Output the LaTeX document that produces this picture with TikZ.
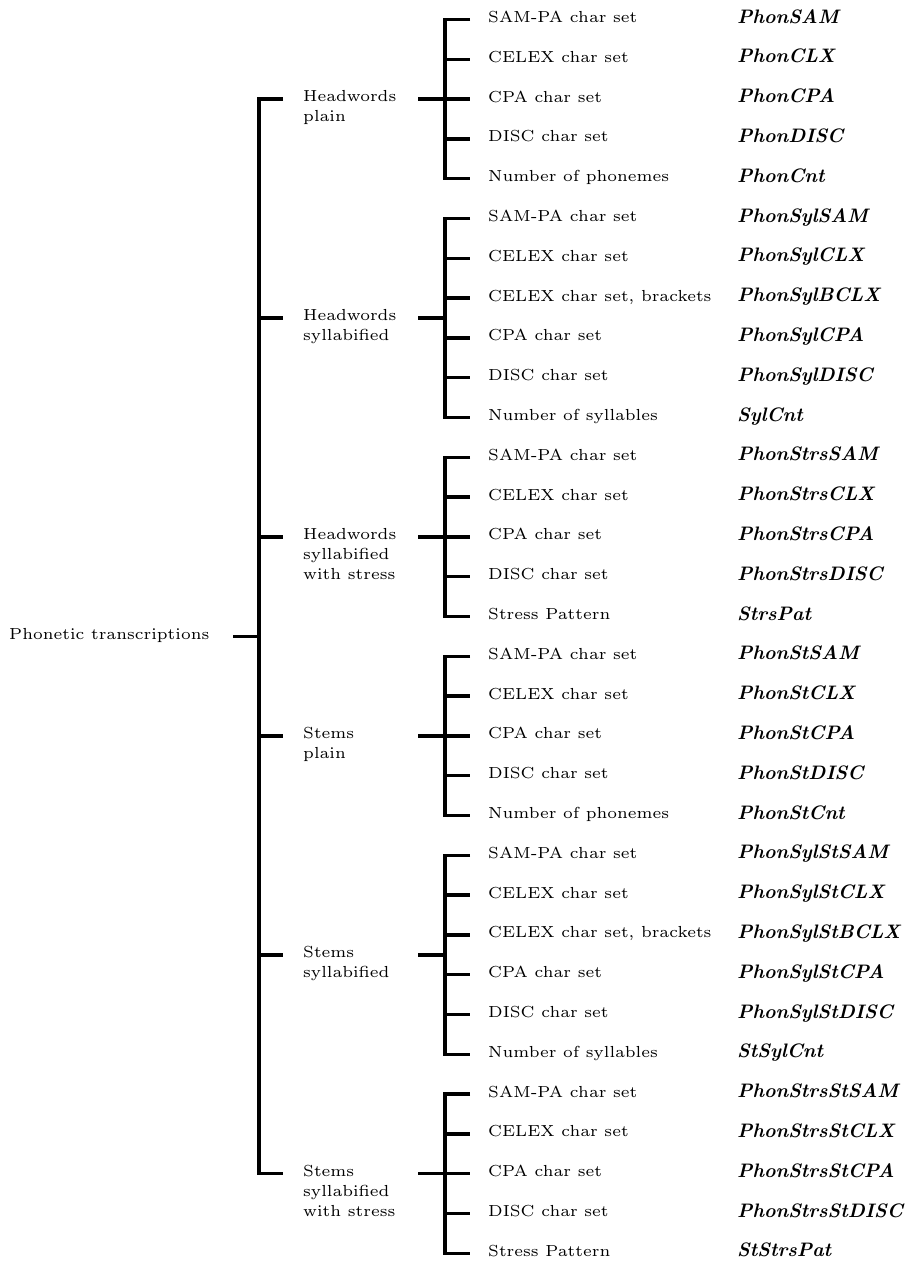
\documentclass[tikz,border=0pt]{standalone}
\usetikzlibrary{calc}
\font\myrm=cmr6 at 16pt
\font\mybi=cmbxti10 at 19.5pt
\newcommand\rmtxt{\fontsize{16}{20}\selectfont\myrm}
\tikzset{
  tree/.style={line width=3.5pt, line join=miter, line cap=butt},
  leaf/.style={anchor=base west, inner sep=0pt, font=\myrm},
  codetxt/.style={anchor=base west, inner sep=0pt, font=\mybi},
  grp/.style={anchor=base west, inner sep=0pt, font=\rmtxt}
}
\newcommand\leafrow[4]{%
  \pgfmathsetmacro\yy{19.5+39.8*#2}%
  \coordinate (b#1) at (445,\yy);
  \coordinate (e#1) at (470,\yy);
  \node[leaf] (t#1) at (488,\yy+3) {#3};
  \node[codetxt] (k#1) at (737,\yy+3.5) {#4};
}
\newcommand\grouprow[3]{%
  \pgfmathsetmacro\yy{19.5+39.8*#2}%
  \coordinate (gb#1) at (259,\yy);
  \coordinate (gs#1) at (283,\yy);
  \coordinate (gr#1) at (418,\yy);
  \coordinate (gm#1) at (445,\yy);
  \node[grp] (g#1) at (303,\yy+2.5) {\begin{tabular}[t]{@{}l@{}}#3\end{tabular}};
}
\begin{document}
\begin{tikzpicture}[x=1pt,y=-1pt]
\useasboundingbox (0,0) rectangle (908,1262);
% root
\node[grp] (root) at (9,639) {Phonetic transcriptions};
\coordinate (rs) at (233,636.5);
\coordinate (rb) at (259,636.5);
% groups
\grouprow{1}{2}{Headwords\\plain}
\grouprow{2}{7.5}{Headwords\\syllabified}
\grouprow{3}{13}{Headwords\\syllabified\\with stress}
\grouprow{4}{18}{Stems\\plain}
\grouprow{5}{23.5}{Stems\\syllabified}
\grouprow{6}{29}{Stems\\syllabified\\with stress}
% leaves group 1
\leafrow{a1}{0}{SAM-PA char set}{PhonSAM}
\leafrow{a2}{1}{CELEX char set}{PhonCLX}
\leafrow{a3}{2}{CPA char set}{PhonCPA}
\leafrow{a4}{3}{DISC char set}{PhonDISC}
\leafrow{a5}{4}{Number of phonemes}{PhonCnt}
% group 2
\leafrow{b1}{5}{SAM-PA char set}{PhonSylSAM}
\leafrow{b2}{6}{CELEX char set}{PhonSylCLX}
\leafrow{b3}{7}{CELEX char set, brackets}{PhonSylBCLX}
\leafrow{b4}{8}{CPA char set}{PhonSylCPA}
\leafrow{b5}{9}{DISC char set}{PhonSylDISC}
\leafrow{b6}{10}{Number of syllables}{SylCnt}
% group 3
\leafrow{c1}{11}{SAM-PA char set}{PhonStrsSAM}
\leafrow{c2}{12}{CELEX char set}{PhonStrsCLX}
\leafrow{c3}{13}{CPA char set}{PhonStrsCPA}
\leafrow{c4}{14}{DISC char set}{PhonStrsDISC}
\leafrow{c5}{15}{Stress Pattern}{StrsPat}
% group 4
\leafrow{d1}{16}{SAM-PA char set}{PhonStSAM}
\leafrow{d2}{17}{CELEX char set}{PhonStCLX}
\leafrow{d3}{18}{CPA char set}{PhonStCPA}
\leafrow{d4}{19}{DISC char set}{PhonStDISC}
\leafrow{d5}{20}{Number of phonemes}{PhonStCnt}
% group 5
\leafrow{e1}{21}{SAM-PA char set}{PhonSylStSAM}
\leafrow{e2}{22}{CELEX char set}{PhonSylStCLX}
\leafrow{e3}{23}{CELEX char set, brackets}{PhonSylStBCLX}
\leafrow{e4}{24}{CPA char set}{PhonSylStCPA}
\leafrow{e5}{25}{DISC char set}{PhonSylStDISC}
\leafrow{e6}{26}{Number of syllables}{StSylCnt}
% group 6
\leafrow{f1}{27}{SAM-PA char set}{PhonStrsStSAM}
\leafrow{f2}{28}{CELEX char set}{PhonStrsStCLX}
\leafrow{f3}{29}{CPA char set}{PhonStrsStCPA}
\leafrow{f4}{30}{DISC char set}{PhonStrsStDISC}
\leafrow{f5}{31}{Stress Pattern}{StStrsPat}
% connectors: root and main bar
\draw[tree] (rs) -- (rb);
\draw[tree] (gs1) -- (gb1) -- (gb6) -- (gs6);
\foreach \g in {2,3,4,5}{\draw[tree] (gb\g) -- (gs\g);}
\foreach \g in {1,...,6}{\draw[tree] (gr\g) -- (gm\g);}
% group brackets
\draw[tree] (ea1) -- (ba1) -- (ba5) -- (ea5);
\foreach \i in {2,3,4}{\draw[tree] (ba\i) -- (ea\i);}
\draw[tree] (eb1) -- (bb1) -- (bb6) -- (eb6);
\foreach \i in {2,...,5}{\draw[tree] (bb\i) -- (eb\i);}
\draw[tree] (ec1) -- (bc1) -- (bc5) -- (ec5);
\foreach \i in {2,3,4}{\draw[tree] (bc\i) -- (ec\i);}
\draw[tree] (ed1) -- (bd1) -- (bd5) -- (ed5);
\foreach \i in {2,3,4}{\draw[tree] (bd\i) -- (ed\i);}
\draw[tree] (ee1) -- (be1) -- (be6) -- (ee6);
\foreach \i in {2,...,5}{\draw[tree] (be\i) -- (ee\i);}
\draw[tree] (ef1) -- (bf1) -- (bf5) -- (ef5);
\foreach \i in {2,3,4}{\draw[tree] (bf\i) -- (ef\i);}
\end{tikzpicture}
\end{document}
